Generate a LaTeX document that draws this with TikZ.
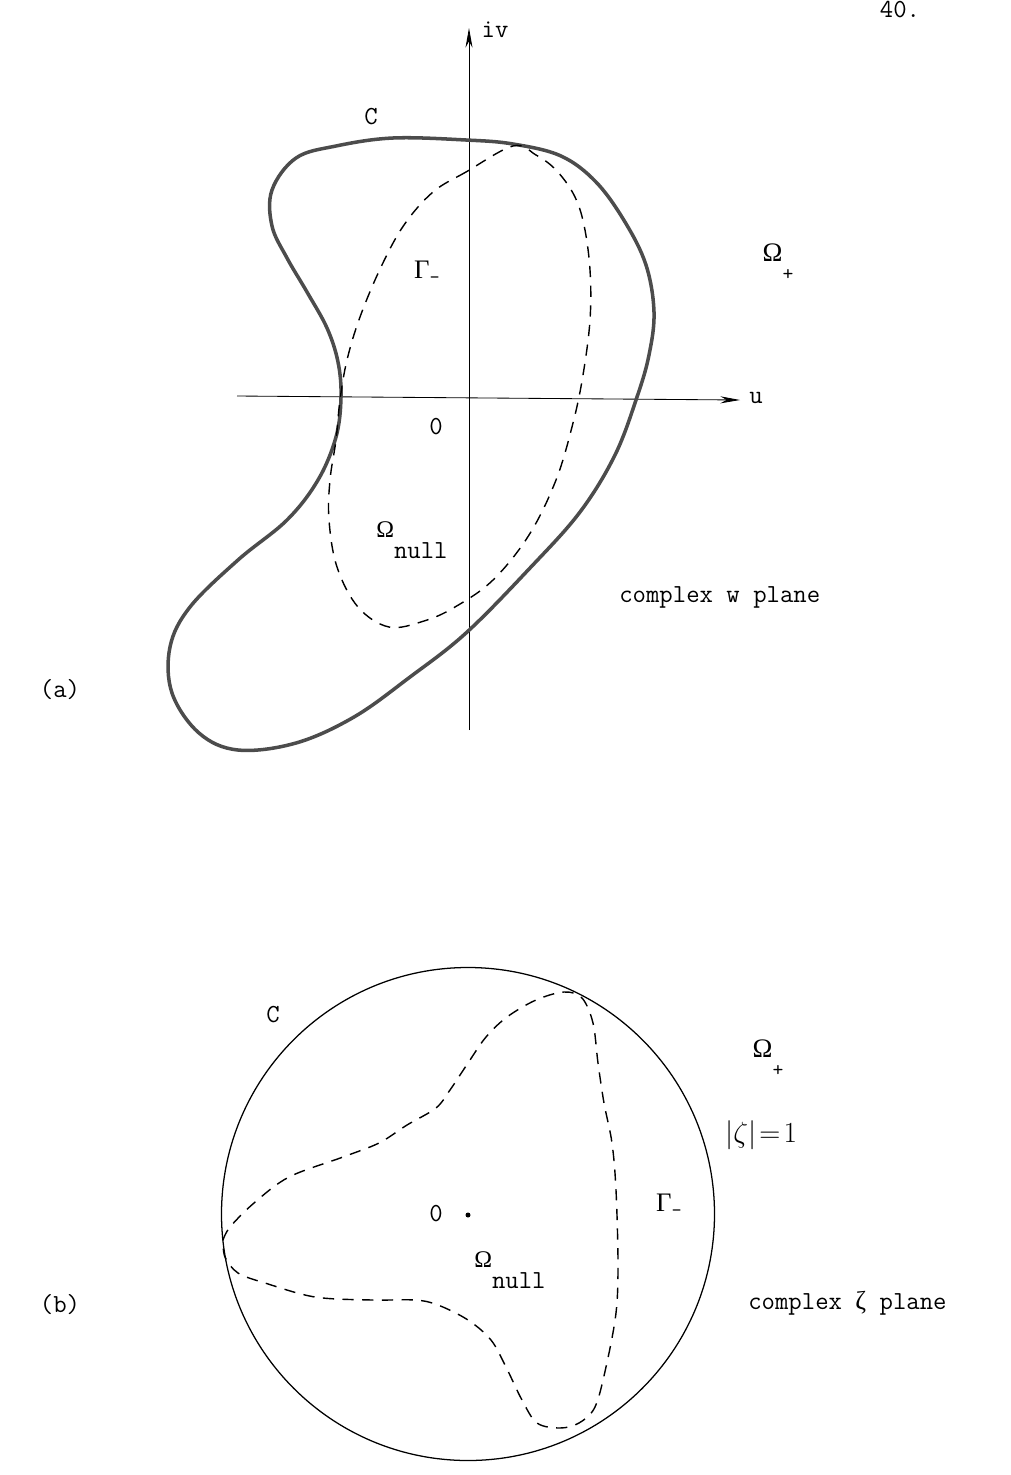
\documentclass[tikz,border=0pt]{standalone}
\usepackage{fontspec}
\newfontfamily\grk{Liberation Serif}
\usetikzlibrary{arrows.meta}

\begin{document}
\begin{tikzpicture}[
  x=0.025cm, y=-0.025cm,
  lbl/.style={font=\ttfamily\fontsize{18.5}{21}\selectfont, inner sep=0pt},
  axis/.style={line width=0.6pt, -{Stealth[length=14pt, width=5pt]}},
  bound/.style={line width=2.5pt, black!70},
  circ/.style={line width=0.9pt},
  nullcurve/.style={line width=1pt, dash pattern=on 8pt off 6pt}
]
\useasboundingbox (0,0) rectangle (1011,1475);

\node[lbl, anchor=north] (page) at (900,1) {40.};

% (a) complex w plane
\coordinate (vbot) at (469,730);
\coordinate (vtop) at (469,28);
\coordinate (hleft) at (237,396);
\coordinate (hright) at (740,400);
\draw[axis] (vbot) -- (vtop);
\draw[axis] (hleft) -- (hright);

\draw[bound] plot[smooth cycle, tension=0.6] coordinates {
  (272,190) (296,158) (336,146) (393,138) (466,140) (513,144) (561,156)
  (596,182) (625,222) (646,265) (654,312) (649,355) (637,397) (615,455)
  (580,512) (530,568) (466,633) (410,677) (354,717) (296,743) (238,750)
  (199,733) (172,693) (170,647) (190,607) (238,560) (287,520) (318,480)
  (336,437) (341,397) (338,362) (327,328) (307,292) (287,258) (272,226)};

\draw[nullcurve] plot[smooth cycle, tension=0.6] coordinates {
  (513,146) (466,172) (433,192) (404,225) (381,267) (360,317) (347,360)
  (340,400) (336,440) (330,480) (329,520) (337,567) (358,607) (389,627)
  (424,621) (455,607) (493,580) (529,535) (556,480) (573,423) (583,375)
  (590,320) (590,270) (584,225) (574,195) (556,170) (536,155)};

\node[lbl] (iv) at (495,30) {iv};
\node[lbl] (ulbl) at (756,398) {u};
\node[lbl] (Ca) at (371,117) {C};
\node[lbl] (oa) at (436,427) {0};
\node[lbl] (gama) at (427,272) {{\grk\fontsize{19}{21}\selectfont Γ}\raisebox{-0.45ex}{\fontsize{14}{14}\selectfont -}};
\node[lbl] (omplusa) at (778,262) {{\grk\fontsize{19}{21}\selectfont Ω}\raisebox{-0.75em}{\fontsize{15}{15}\selectfont +}};
\node[lbl, anchor=west] (omnulla) at (376,540) {{\grk\fontsize{17}{18}\selectfont Ω}\raisebox{-0.8em}{null}};
\node[lbl, anchor=west] (wplane) at (619,597) {complex w plane};
\node[lbl] (alabel) at (60,690) {(a)};

% (b) complex zeta plane
\draw[circ] (468,1214) circle[radius=246.5];
\fill (468,1215) circle[radius=2.5];

\draw[nullcurve] plot[smooth, tension=0.55] coordinates {
  (223,1240) (230,1227) (254,1203) (289,1177) (343,1157) (379,1143)
  (407,1125) (436,1108) (450,1090) (468,1063) (486,1037) (507,1017)
  (536,1000) (564,992) (582,998) (593,1023) (598,1063) (604,1103)
  (612,1143) (616,1190) (618,1263) (616,1313) (606,1367) (595,1407)
  (579,1423) (560,1428) (537,1423) (522,1400) (506,1367) (491,1340)
  (468,1320) (438,1305) (415,1300) (372,1300) (315,1297) (265,1283)
  (238,1273) (225,1257) (223,1240)};

\node[lbl] (Cb) at (273,1015) {C};
\node[lbl] (ob) at (436,1214) {0};
\node[lbl] (gamb) at (669,1205) {{\grk\fontsize{19}{21}\selectfont Γ}\raisebox{-0.45ex}{\fontsize{14}{14}\selectfont -}};
\node[lbl] (omplusb) at (768,1058) {{\grk\fontsize{19}{21}\selectfont Ω}\raisebox{-0.75em}{\fontsize{15}{15}\selectfont +}};
\node[lbl, anchor=west] (unit) at (725,1135) {\fontsize{20}{22}\selectfont$|\zeta|\!=\!1$};
\node[lbl, anchor=west] (omnullb) at (474,1270) {{\grk\fontsize{17}{18}\selectfont Ω}\raisebox{-0.8em}{null}};
\node[lbl, anchor=west] (zplane) at (748,1303) {complex {\grk ζ} plane};
\node[lbl] (blabel) at (60,1305) {(b)};
\end{tikzpicture}
\end{document}
